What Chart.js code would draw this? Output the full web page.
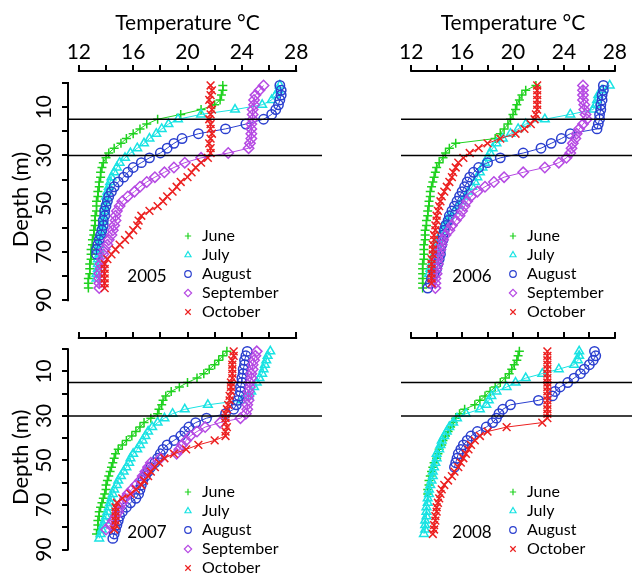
<!DOCTYPE html>
<html>
<head>
<meta charset="utf-8">
<script src="https://cdn.jsdelivr.net/npm/chart.js@4.4.0/dist/chart.umd.min.js"></script>
<style>
    body { margin: 0; background: #fff; }
    #wrap { position: relative; width: 632px; height: 574px; overflow: hidden; }
    canvas { position: absolute; }
</style>
</head>
<body>
<div id="wrap">
    <canvas id="p2005" width="322" height="320" style="left:0;top:0"></canvas>
    <canvas id="p2006" width="238" height="320" style="left:394px;top:0"></canvas>
    <canvas id="p2007" width="322" height="254" style="left:0;top:320px"></canvas>
    <canvas id="p2008" width="238" height="254" style="left:394px;top:320px"></canvas>
</div>
<script>
    // Sampling depths (m) shared by every profile
    const depths = [1, 3, 5, 7, 9, 11, 13, 15, 17, 19, 21, 23, 25, 27, 29, 31, 33, 35, 37, 39, 41, 43,
        45, 47, 49, 51, 53, 55, 57, 59, 61, 63, 65, 67, 69, 71, 73, 75, 77, 79, 81, 83, 85];

    const xTicks = [12, 14, 16, 18, 20, 22, 24, 26, 28];
    const xLabels = [12, 16, 20, 24, 28];
    const yTicks = [0, 10, 20, 30, 40, 50, 60, 70, 80, 90];
    const yLabels = [10, 30, 50, 70, 90];
    const refDepths = [15, 30];

    // Temperature (°C) at each depth above
    const jun05 = [22.6, 22.6, 22.5, 22.4, 22.0, 21.0, 19.5, 17.8, 17.0, 16.5, 16.0, 15.5, 15.1, 14.6, 14.2, 14.0, 13.8, 13.7, 13.6, 13.6, 13.5, 13.5, 13.4, 13.4, 13.3, 13.3, 13.3, 13.2, 13.2, 13.2, 13.1, 13.1, 13.0, 13.0, 12.9, 12.9, 12.9, 12.8, 12.8, 12.8, 12.7, 12.7, 12.7];
    const jul05 = [26.8, 26.7, 26.5, 26.2, 25.5, 23.5, 21.0, 19.3, 18.6, 18.1, 17.7, 17.2, 16.8, 16.3, 15.8, 15.4, 15.0, 14.8, 14.6, 14.4, 14.3, 14.2, 14.1, 14.0, 14.0, 13.9, 13.9, 13.8, 13.8, 13.7, 13.7, 13.6, 13.6, 13.5, 13.5, 13.5, 13.4, 13.4, 13.4, 13.3, 13.3];
    const aug05 = [26.8, 26.9, 26.9, 26.8, 26.7, 26.5, 26.2, 25.6, 24.3, 22.8, 20.8, 19.6, 19.0, 18.5, 18.0, 17.2, 16.6, 16.0, 15.6, 15.3, 14.9, 14.6, 14.4, 14.2, 14.1, 14.0, 13.9, 13.9, 13.8, 13.8, 13.7, 13.6, 13.5, 13.4, 13.3, 13.3];
    const sep05 = [25.6, 25.3, 25.0, 24.9, 24.9, 24.8, 24.8, 24.8, 24.7, 24.7, 24.7, 24.7, 24.6, 24.5, 23.0, 21.0, 19.8, 19.0, 18.3, 17.6, 17.0, 16.5, 16.1, 15.6, 15.2, 15.0, 14.8, 14.7, 14.7, 14.6, 14.5, 14.4, 14.2, 14.1, 13.9, 13.8, 13.7, 13.6, 13.6, 13.5, 13.5, 13.5, 13.5];
    const oct05 = [21.7, 21.8, 21.7, 21.6, 21.7, 21.8, 21.7, 21.6, 21.7, 21.7, 21.8, 21.7, 21.6, 21.7, 21.7, 21.5, 21.0, 20.6, 20.3, 20.0, 19.5, 19.2, 18.9, 18.5, 18.2, 17.8, 17.2, 16.6, 16.4, 16.3, 16.0, 15.7, 15.4, 15.0, 14.7, 14.4, 14.1, 13.9, 13.9, 13.9, 13.9, 13.9, 13.9];

    const jun06 = [21.8, 21.0, 20.7, 20.5, 20.3, 20.2, 20.0, 19.8, 19.6, 19.3, 19.0, 18.6, 15.5, 15.0, 14.7, 14.5, 14.2, 14.0, 13.9, 13.8, 13.7, 13.6, 13.5, 13.5, 13.4, 13.4, 13.3, 13.3, 13.2, 13.2, 13.1, 13.1, 13.1, 13.0, 13.0, 13.0, 13.0, 12.9, 12.9, 12.9, 12.9, 12.9, 12.9];
    const jul06 = [27.6, 27.0, 26.7, 26.6, 26.5, 26.3, 24.5, 22.5, 21.0, 20.4, 19.8, 19.2, 18.7, 18.4, 18.2, 18.0, 17.8, 17.6, 17.4, 17.2, 17.0, 16.8, 16.5, 16.3, 16.0, 15.7, 15.4, 15.0, 14.8, 14.6, 14.5, 14.3, 14.1, 14.0, 13.9, 13.8, 13.7, 13.6, 13.5, 13.4];
    const aug06 = [27.1, 27.1, 27.0, 27.0, 26.9, 26.9, 26.8, 26.8, 26.7, 26.6, 24.5, 23.8, 23.0, 22.2, 20.8, 19.0, 18.0, 17.3, 16.9, 16.6, 16.4, 16.2, 16.0, 15.8, 15.6, 15.4, 15.2, 15.0, 14.9, 14.7, 14.6, 14.5, 14.5, 14.4, 14.3, 14.3, 14.2, 14.1, 14.0, 13.8, 13.6, 13.5, 13.3];
    const sep06 = [25.5, 25.5, 25.5, 25.5, 25.6, 25.6, 25.7, 25.8, 25.5, 25.2, 25.0, 24.9, 24.7, 24.6, 24.5, 24.2, 23.6, 22.5, 20.8, 19.3, 18.5, 17.8, 17.2, 16.7, 16.4, 16.2, 16.0, 15.8, 15.5, 15.2, 15.0, 14.7, 14.5, 14.4, 14.3, 14.2, 14.1, 14.1, 14.0, 14.0, 13.9, 13.9, 13.9];
    const oct06 = [21.9, 21.9, 21.9, 21.9, 21.9, 21.9, 21.8, 21.7, 21.4, 20.9, 20.2, 19.0, 18.0, 17.3, 16.6, 16.1, 15.7, 15.5, 15.3, 15.2, 15.0, 14.8, 14.6, 14.4, 14.3, 14.2, 14.1, 14.0, 14.0, 13.9, 13.9, 13.8, 13.8, 13.7, 13.7, 13.7, 13.6, 13.6, 13.6, 13.6, 13.6, 13.6];

    const jun07 = [22.9, 22.6, 22.3, 22.0, 21.6, 21.2, 20.7, 20.0, 19.4, 18.8, 18.4, 18.2, 18.1, 17.9, 17.8, 17.3, 16.8, 16.5, 16.2, 15.9, 15.5, 15.2, 14.9, 14.7, 14.6, 14.5, 14.4, 14.3, 14.2, 14.1, 14.0, 14.0, 13.9, 13.8, 13.7, 13.6, 13.5, 13.5, 13.4, 13.4, 13.4, 13.3];
    const jul07 = [26.1, 25.9, 25.8, 25.7, 25.6, 25.5, 25.3, 25.1, 24.9, 24.7, 24.5, 24.0, 21.5, 19.8, 18.9, 18.3, 17.8, 17.4, 17.1, 16.9, 16.7, 16.5, 16.3, 16.0, 15.8, 15.7, 15.5, 15.3, 15.1, 14.9, 14.8, 14.6, 14.5, 14.4, 14.3, 14.2, 14.1, 14.0, 13.9, 13.8, 13.7, 13.6, 13.5];
    const aug07 = [24.4, 24.3, 24.2, 24.2, 24.1, 24.1, 24.0, 24.0, 23.9, 23.9, 23.8, 23.7, 23.6, 23.4, 22.8, 21.4, 20.6, 20.1, 19.8, 19.5, 19.0, 18.5, 18.2, 18.0, 17.8, 17.6, 17.3, 17.1, 16.9, 16.7, 16.6, 16.5, 16.4, 16.2, 15.8, 15.5, 15.2, 15.0, 14.9, 14.8, 14.7, 14.6, 14.5];
    const sep07 = [25.1, 25.0, 24.9, 24.8, 24.8, 24.7, 24.7, 24.6, 24.6, 24.5, 24.5, 24.5, 24.4, 24.4, 24.3, 23.9, 22.4, 21.3, 20.7, 20.2, 19.9, 19.6, 19.4, 19.2, 18.0, 17.3, 17.1, 16.9, 16.7, 16.5, 16.2, 15.9, 15.6, 15.4, 15.2, 15.0, 14.9, 14.7, 14.5, 14.3, 14.0];
    const oct07 = [23.4, 23.4, 23.3, 23.3, 23.3, 23.3, 23.3, 23.2, 23.2, 23.2, 23.1, 23.1, 23.0, 22.9, 22.8, 22.8, 22.8, 22.9, 22.8, 22.8, 22.0, 20.8, 19.9, 19.0, 18.3, 17.9, 17.6, 17.3, 17.1, 16.8, 16.6, 16.2, 15.8, 15.2, 14.8, 14.7, 14.7, 14.7, 14.7, 14.7, 14.6];

    const jun08 = [20.5, 20.4, 20.3, 20.1, 19.9, 19.7, 19.4, 19.0, 18.6, 18.2, 17.8, 17.4, 17.0, 16.2, 15.8, 15.5, 15.3, 15.1, 14.9, 14.7, 14.5, 14.4, 14.2, 14.1, 14.0, 13.8, 13.7, 13.6, 13.5, 13.4, 13.4, 13.3, 13.3];
    const jul08 = [25.2, 25.2, 25.1, 24.8, 23.6, 22.3, 21.0, 20.2, 19.5, 18.7, 18.3, 18.1, 17.9, 17.4, 16.3, 15.6, 15.3, 15.0, 14.8, 14.6, 14.4, 14.3, 14.2, 14.0, 14.0, 13.9, 13.8, 13.7, 13.7, 13.6, 13.5, 13.4, 13.4, 13.3, 13.3, 13.2, 13.2, 13.2, 13.1, 13.1, 13.1, 13.0];
    const aug08 = [26.4, 26.5, 26.3, 26.0, 25.6, 25.3, 24.8, 24.3, 23.7, 23.3, 23.1, 22.0, 19.8, 19.2, 18.9, 18.7, 18.4, 17.9, 17.2, 16.7, 16.4, 16.1, 15.9, 15.7, 15.6, 15.5, 15.4];
    const oct08 = [22.7, 22.7, 22.7, 22.7, 22.7, 22.7, 22.7, 22.7, 22.7, 22.7, 22.7, 22.7, 22.7, 22.7, 22.7, 22.7, 22.3, 19.5, 18.0, 17.4, 17.0, 16.7, 16.5, 16.3, 16.1, 15.9, 15.7, 15.4, 15.2, 14.9, 14.6, 14.4, 14.3, 14.2, 14.1, 14.0, 14.0, 13.9, 13.9, 13.8, 13.8, 13.7];

    const monthStyle = {
        June: { color: '#1fd21f', pointStyle: 'cross', radius: 4.5 },
        July: { color: '#19e3e3', pointStyle: 'triangle', radius: 5 },
        August: { color: '#2a3fcf', pointStyle: 'circle', radius: 4.7 },
        September: { color: '#b64ae3', pointStyle: 'rectRot', radius: 5.2 },
        October: { color: '#ec2020', pointStyle: 'crossRot', radius: 5.5 }
    };

    const FONT = 'Lato';

    function profile(temps) {
        return temps.map((t, i) => ({ x: t, y: depths[i] }));
    }

    function line(ctx, x1, y1, x2, y2) {
        ctx.beginPath();
        ctx.moveTo(x1, y1);
        ctx.lineTo(x2, y2);
        ctx.stroke();
    }

    // Reference lines, trimmed axis lines, rotated depth labels, legend and year
    const panelDecor = {
        id: 'panelDecor',
        afterDatasetsDraw(chart, args, o) {
            const { ctx, chartArea } = chart;
            const x = chart.scales.x, y = chart.scales.y;
            ctx.save();
            ctx.strokeStyle = '#000';
            ctx.fillStyle = '#000';
            ctx.lineWidth = 1.5;
            refDepths.forEach(d => {
                const py = y.getPixelForValue(d);
                line(ctx, chartArea.left, py, chart.width, py);
            });

            ctx.lineWidth = 2;
            line(ctx, x.getPixelForValue(xTicks[0]) - 1, chartArea.top,
                x.getPixelForValue(xTicks[xTicks.length - 1]) + 1, chartArea.top);

            if (o.yAxis) {
                line(ctx, chartArea.left, y.getPixelForValue(yTicks[0]) - 1,
                    chartArea.left, y.getPixelForValue(yTicks[yTicks.length - 1]) + 1);
                ctx.font = '21px ' + FONT;
                ctx.textAlign = 'center';
                ctx.textBaseline = 'middle';
                yLabels.forEach(v => {
                    ctx.save();
                    ctx.translate(44, y.getPixelForValue(v));
                    ctx.rotate(-Math.PI / 2);
                    ctx.fillText(String(v), 0, 0);
                    ctx.restore();
                });
                ctx.font = '22px ' + FONT;
                ctx.save();
                ctx.translate(21, (y.getPixelForValue(0) + y.getPixelForValue(90)) / 2 + 8);
                ctx.rotate(-Math.PI / 2);
                ctx.fillText('Depth (m)', 0, 0);
                ctx.restore();
            }

            // legend
            ctx.textAlign = 'left';
            ctx.textBaseline = 'middle';
            ctx.font = '16px ' + FONT;
            chart.data.datasets.forEach((ds, i) => {
                const st = monthStyle[ds.label];
                const ly = o.legendY + i * 19;
                ctx.strokeStyle = st.color;
                ctx.fillStyle = 'rgba(0,0,0,0)';
                ctx.lineWidth = 1.2;
                Chart.helpers.drawPoint(ctx, { pointStyle: st.pointStyle, radius: st.radius * 0.7, rotation: 0, borderWidth: 1.2 }, o.legendX, ly);
                ctx.fillStyle = '#000';
                ctx.fillText(ds.label, o.legendX + 14, ly);
            });
            ctx.font = '17px ' + FONT;
            ctx.textAlign = 'center';
            ctx.fillText(o.year, o.legendX - 41, o.legendY + 2 * 19 + 3);
            ctx.restore();
        }
    };

    function createPanel(id, year, series, cfg) {
        const ctx = document.getElementById(id).getContext('2d');
        const names = Object.keys(series);
        return new Chart(ctx, {
            type: 'scatter',
            data: {
                datasets: names.map((m, i) => ({
                    label: m,
                    data: profile(series[m]),
                    showLine: true,
                    borderColor: monthStyle[m].color,
                    borderWidth: 1,
                    pointStyle: monthStyle[m].pointStyle,
                    pointRadius: monthStyle[m].radius,
                    pointBorderColor: monthStyle[m].color,
                    pointBackgroundColor: 'rgba(0,0,0,0)',
                    pointBorderWidth: 1.5,
                    order: names.length - i
                }))
            },
            options: {
                responsive: false,
                animation: false,
                layout: { padding: { left: 0, top: 0, right: cfg.padRight, bottom: cfg.padBottom } },
                plugins: {
                    legend: { display: false },
                    tooltip: { enabled: false },
                    panelDecor: { year: year, yAxis: cfg.yAxis, legendX: cfg.legendX, legendY: cfg.legendY }
                },
                scales: {
                    x: {
                        type: 'linear',
                        position: 'top',
                        min: 11.2,
                        max: 28.8,
                        afterBuildTicks: s => { s.ticks = xTicks.map(v => ({ value: v })); },
                        afterFit: s => { s.height = cfg.topLabels ? 71 : 18; },
                        border: { display: false },
                        grid: { drawOnChartArea: false, drawTicks: true, tickLength: 6, lineWidth: 2, color: '#000' },
                        ticks: {
                            display: cfg.topLabels,
                            autoSkip: false,
                            maxRotation: 0,
                            padding: 0,
                            color: '#000',
                            font: { family: FONT, size: 21 },
                            callback: v => xLabels.includes(v) ? String(v) : ''
                        },
                        title: {
                            display: cfg.topLabels,
                            text: 'Temperature °C',
                            color: '#000',
                            font: { family: FONT, size: 21 },
                            padding: { top: 11, bottom: 0 }
                        }
                    },
                    y: {
                        type: 'linear',
                        reverse: true,
                        min: -5,
                        max: 92,
                        display: cfg.yAxis,
                        afterBuildTicks: s => { s.ticks = yTicks.map(v => ({ value: v })); },
                        afterFit: s => { if (cfg.yAxis) s.width = 68; },
                        border: { display: false },
                        grid: { drawOnChartArea: false, drawTicks: true, tickLength: 6, lineWidth: 2, color: '#000' },
                        ticks: { display: false }
                    }
                }
            },
            plugins: [panelDecor]
        });
    }

    createPanel('p2005', '2005', { June: jun05, July: jul05, August: aug05, September: sep05, October: oct05 },
        { yAxis: true, topLabels: true, padRight: 15, padBottom: 15, legendX: 188, legendY: 236 });
    createPanel('p2006', '2006', { June: jun06, July: jul06, August: aug06, September: sep06, October: oct06 },
        { yAxis: false, topLabels: true, padRight: 0, padBottom: 15, legendX: 119, legendY: 236 });
    createPanel('p2007', '2007', { June: jun07, July: jul07, August: aug07, September: sep07, October: oct07 },
        { yAxis: true, topLabels: false, padRight: 15, padBottom: 20, legendX: 188, legendY: 172 });
    createPanel('p2008', '2008', { June: jun08, July: jul08, August: aug08, October: oct08 },
        { yAxis: false, topLabels: false, padRight: 0, padBottom: 20, legendX: 119, legendY: 172 });
</script>
</body>
</html>
